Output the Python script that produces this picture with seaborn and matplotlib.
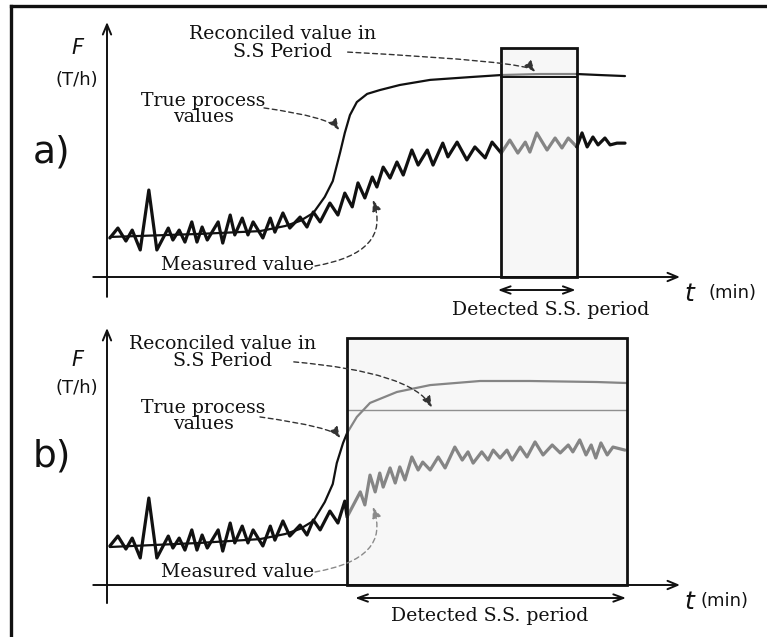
import matplotlib
matplotlib.use("Agg")
import matplotlib.pyplot as plt
import pandas as pd
import seaborn as sns
from matplotlib.lines import Line2D
from matplotlib.patches import Rectangle

sns.set_theme(style="white")
plt.rcParams["font.family"] = ["DejaVu Serif"]

# ---------------- panel a: short detected steady-state window ----------------
a_true_t = [0.5, 16.2, 26.7, 31.1, 33.7, 36.0, 38.0, 39.4, 40.7, 41.5, 42.4, 43.6,
            45.4, 47.6, 51.1, 56.4, 63.4, 68.8, 75.6, 82.0, 86.0, 90.4]
a_true_F = [15.7, 16.9, 18.0, 20.0, 22.0, 25.1, 31.4, 37.6, 49.0, 56.5, 63.5, 68.6,
            71.8, 73.3, 75.3, 77.3, 78.4, 79.2, 79.6, 79.6, 79.2, 78.8]

a_meas_t = [0.5, 1.9, 3.3, 4.4, 5.8, 7.3, 8.7, 10.7, 11.5, 12.6, 13.6, 14.8, 15.7,
            16.6, 17.5, 19.4, 20.2, 21.5, 22.3, 23.6, 24.6, 25.5, 27.2, 28.5, 29.3,
            30.7, 31.9, 33.7, 34.9, 36.0, 37.2, 38.9, 40.3, 41.5, 42.8, 43.8, 45.0,
            46.3, 47.1, 48.2, 49.4, 50.6, 51.7, 53.2, 54.3, 55.9, 56.9, 58.6, 59.5,
            61.1, 62.8, 64.2, 66.0, 67.2, 68.8, 70.3, 71.7, 73.0, 73.8, 75.0, 76.8,
            78.2, 79.4, 80.5, 82.0, 82.9, 83.8, 84.8, 85.7, 86.9, 87.8, 89.0, 90.4]
a_meas_F = [15.3, 19.2, 14.1, 18.4, 10.6, 34.1, 10.6, 19.2, 14.5, 18.4, 13.7, 21.6,
            13.7, 19.6, 14.5, 21.6, 13.3, 24.3, 16.5, 23.1, 16.5, 21.6, 15.3, 23.1,
            17.6, 25.1, 19.2, 23.5, 19.6, 25.5, 21.6, 29.0, 24.3, 32.9, 27.5, 36.9,
            31.0, 39.2, 35.3, 43.1, 38.8, 45.1, 40.0, 49.8, 43.9, 49.8, 43.9, 52.5,
            47.1, 52.9, 45.9, 51.0, 46.7, 52.9, 48.6, 53.7, 48.6, 52.9, 49.0, 56.5,
            49.8, 54.5, 50.6, 54.5, 51.0, 56.5, 51.0, 54.9, 51.8, 54.5, 51.8, 52.5,
            52.5]

a_window = [68.8, 82.0]      # detected S.S. period (min)
a_window_top = 89.8
a_reconciled = 78.4

# ---------------- panel b: long detected steady-state window ----------------
b_true_t = [0.5, 16.2, 26.7, 31.1, 33.7, 36.0, 38.0, 39.4, 40.1, 41.2, 41.9, 43.6,
            45.9, 50.6, 56.4, 65.1, 73.8, 85.5, 90.8]
b_true_F = [14.9, 16.5, 18.0, 20.0, 22.0, 25.1, 32.5, 39.6, 47.8, 55.7, 59.6, 65.9,
            71.4, 75.7, 78.4, 80.0, 80.0, 79.6, 79.2]

b_meas_t = [0.5, 1.9, 3.3, 4.4, 5.8, 7.3, 8.7, 10.7, 11.5, 12.6, 13.6, 14.8, 15.7,
            16.6, 17.5, 19.4, 20.2, 21.5, 22.3, 23.6, 24.6, 25.5, 27.2, 28.5, 29.3,
            30.7, 31.9, 33.7, 34.9, 36.0, 37.2, 38.9, 40.3, 41.5, 41.9, 44.2, 45.0,
            45.9, 46.8, 47.6, 48.2, 49.4, 50.3, 51.1, 52.0, 53.2, 54.3, 55.1, 56.4,
            57.8, 59.0, 60.7, 62.0, 63.0, 63.9, 65.4, 66.5, 67.4, 68.6, 69.8, 70.7,
            72.1, 73.3, 74.7, 76.1, 77.7, 79.1, 80.5, 81.3, 82.5, 83.6, 84.5, 85.3,
            86.2, 87.3, 88.3, 90.4]
b_meas_F = [15.3, 19.2, 14.1, 18.4, 10.6, 34.1, 10.6, 19.2, 14.5, 18.4, 13.7, 21.6,
            13.7, 19.6, 14.5, 21.6, 13.3, 24.3, 16.5, 23.1, 16.5, 21.6, 15.3, 23.1,
            17.6, 25.1, 19.2, 23.5, 19.6, 25.5, 21.6, 29.0, 24.3, 32.9, 26.7, 36.5,
            31.4, 43.1, 36.5, 43.9, 38.4, 45.9, 40.0, 46.3, 41.2, 50.2, 45.1, 48.2,
            45.1, 50.2, 45.9, 54.1, 49.0, 52.2, 47.8, 52.2, 49.0, 52.9, 49.8, 52.9,
            49.0, 54.1, 50.2, 56.1, 51.0, 54.9, 51.8, 54.9, 52.2, 56.9, 51.0, 54.9,
            49.8, 55.7, 51.0, 54.1, 52.9]

b_window = [41.9, 90.8]
b_window_top = 96.9
b_reconciled = 68.6

panel_labels = ["a)", "b)"]
annot_reconciled = "Reconciled value in\nS.S Period"
annot_true = "True process\nvalues"
annot_measured = "Measured value"
window_label = "Detected S.S. period"

BLACK = "#111111"
GREY = "#858585"

W, H = 767, 637
fig = plt.figure(figsize=(W / 100, H / 100), dpi=100)
fig.patch.set_facecolor("white")

# pixel geometry of each panel: origin of the (t, F) axes and scale
PX_T, PX_F = 5.73, 2.55
X0 = 107


def make_panel(y_top, y_bottom, y_origin):
    ax = fig.add_axes([10 / W, 1 - y_bottom / H, (W - 10) / W, (y_bottom - y_top) / H])
    ax.set_xlim((10 - X0) / PX_T, (W - X0) / PX_T)
    ax.set_ylim((y_origin - y_bottom) / PX_F, (y_origin - y_top) / PX_F)
    ax.axis("off")
    return ax


def segmented(ax, t, F, window, lw, inside_color, z):
    df = pd.DataFrame({"t": t, "F": F})
    lo, hi = window
    parts = [(df[df.t <= lo], BLACK), (df[(df.t >= lo) & (df.t <= hi)], inside_color),
             (df[df.t >= hi], BLACK)]
    for part, col in parts:
        if len(part) > 1:
            sns.lineplot(data=part, x="t", y="F", ax=ax, color=col, lw=lw, sort=False,
                         estimator=None, solid_capstyle="round", solid_joinstyle="round",
                         zorder=z)


def dashed_arrow(ax, start, tip, angles, color="#333333"):
    ax.annotate("", xy=tip, xytext=start,
                arrowprops=dict(arrowstyle="-|>,head_length=0.55,head_width=0.22",
                                linestyle=(0, (3.5, 2.5)), lw=1.0, color=color,
                                shrinkA=0, shrinkB=0,
                                connectionstyle=f"angle3,angleA={angles[0]},angleB={angles[1]}"),
                zorder=6)


def draw_panel(ax, label, true_t, true_F, meas_t, meas_F, window, top, recon,
               recon_color, recon_lw, txt, arrows, ymin_axis, ytop_axis, wlab):
    lo, hi = window
    # steady-state window
    ax.add_patch(Rectangle((lo, 0), hi - lo, top, facecolor="#f7f7f7", edgecolor="none",
                           zorder=0))
    ax.add_patch(Rectangle((lo, 0), hi - lo, top, facecolor="none", edgecolor=BLACK,
                           lw=2.0, zorder=5))
    # axes with arrows
    ax.annotate("", xy=(0, ytop_axis), xytext=(0, ymin_axis),
                arrowprops=dict(arrowstyle="->,head_length=0.6,head_width=0.25", lw=1.4,
                                color=BLACK, shrinkA=0, shrinkB=0))
    ax.annotate("", xy=(100, 0), xytext=(-2.4, 0),
                arrowprops=dict(arrowstyle="->,head_length=0.6,head_width=0.25", lw=1.4,
                                color=BLACK, shrinkA=0, shrinkB=0))
    # reconciled value line
    ax.plot([lo, hi], [recon, recon], color=recon_color, lw=recon_lw, zorder=3)
    # curves
    segmented(ax, true_t, true_F, window, 1.6, GREY, 3)
    segmented(ax, meas_t, meas_F, window, 2.3, GREY, 4)
    # window span arrow and label
    ax.annotate("", xy=(hi - 0.2, -5.1), xytext=(wlab[0], -5.1),
                arrowprops=dict(arrowstyle="<->,head_length=0.6,head_width=0.22", lw=1.4,
                                color=BLACK, shrinkA=0, shrinkB=0))
    ax.text(wlab[1], wlab[2], window_label, ha="center", va="center", fontsize=13.6,
            color=BLACK)
    # axis names
    ax.text(-5.1, txt["F"], "F", fontsize=15, style="italic", family="DejaVu Sans",
            ha="center", va="center", color=BLACK)
    ax.text(-5.2, 77.3, "(T/h)", fontsize=13, family="DejaVu Sans", ha="center",
            va="center", color=BLACK)
    ax.text(-9.6, txt["lab"], label, fontsize=27, family="DejaVu Sans", ha="center",
            va="center", color=BLACK)
    ax.text(101.6, -6.7, "t", fontsize=18, style="italic", family="DejaVu Sans",
            ha="center", va="center", color=BLACK)
    ax.text(txt["min"], -6.2, "(min)", fontsize=13, family="DejaVu Sans", ha="center",
            va="center", color=BLACK)
    # call-outs
    ax.text(txt["rec"][0], txt["rec"][1], annot_reconciled, ha="center", va="center",
            fontsize=13.6, linespacing=0.95, color=BLACK)
    ax.text(16.8, txt["true"], annot_true, ha="center", va="center", fontsize=13.6,
            linespacing=0.9, color=BLACK)
    ax.text(22.7, txt["meas"], annot_measured, ha="center", va="center", fontsize=13.6,
            color=BLACK)
    for start, tip, angles, col in arrows:
        dashed_arrow(ax, start, tip, angles, col)


ax_a = make_panel(6, 318, 277)
draw_panel(ax_a, panel_labels[0], a_true_t, a_true_F, a_meas_t, a_meas_F, a_window,
           a_window_top, a_reconciled, BLACK, 1.4,
           dict(F=89.8, lab=49.0, min=109.1, rec=(30.7, 91.8), true=65.9, meas=4.7),
           [((42.0, 88.2), (74.7, 80.4), (-3, -50), "#333333"),
            ((27.4, 66.3), (40.5, 57.6), (-8, -55), "#333333"),
            ((36.3, 4.3), (46.4, 30.2), (10, 110), "#333333")],
           -7.8, 100, (68.2, 77.5, -12.9))

ax_b = make_panel(318, 637, 585)
draw_panel(ax_b, panel_labels[1], b_true_t, b_true_F, b_meas_t, b_meas_F, b_window,
           b_window_top, b_reconciled, "#8f8f8f", 1.0,
           dict(F=88.2, lab=50.2, min=107.7, rec=(20.2, 91.2), true=66.3, meas=5.1),
           [((32.6, 87.5), (56.7, 69.6), (-5, -60), "#333333"),
            ((26.7, 65.9), (40.7, 57.6), (-8, -55), "#333333"),
            ((36.3, 5.1), (46.4, 30.6), (10, 110), "#8a8a8a")],
           -7.1, 100.8, (43.3, 66.8, -12.2))

# outer frame (left and top edges)
fig.add_artist(Line2D([11 / W, 11 / W], [0, 1 - 6 / H], color=BLACK, lw=2.4,
                      transform=fig.transFigure, solid_capstyle="projecting"))
fig.add_artist(Line2D([11 / W, 1], [1 - 6 / H, 1 - 6 / H], color=BLACK, lw=2.4,
                      transform=fig.transFigure, solid_capstyle="projecting"))

fig.savefig("out.png", dpi=100, facecolor="white")
